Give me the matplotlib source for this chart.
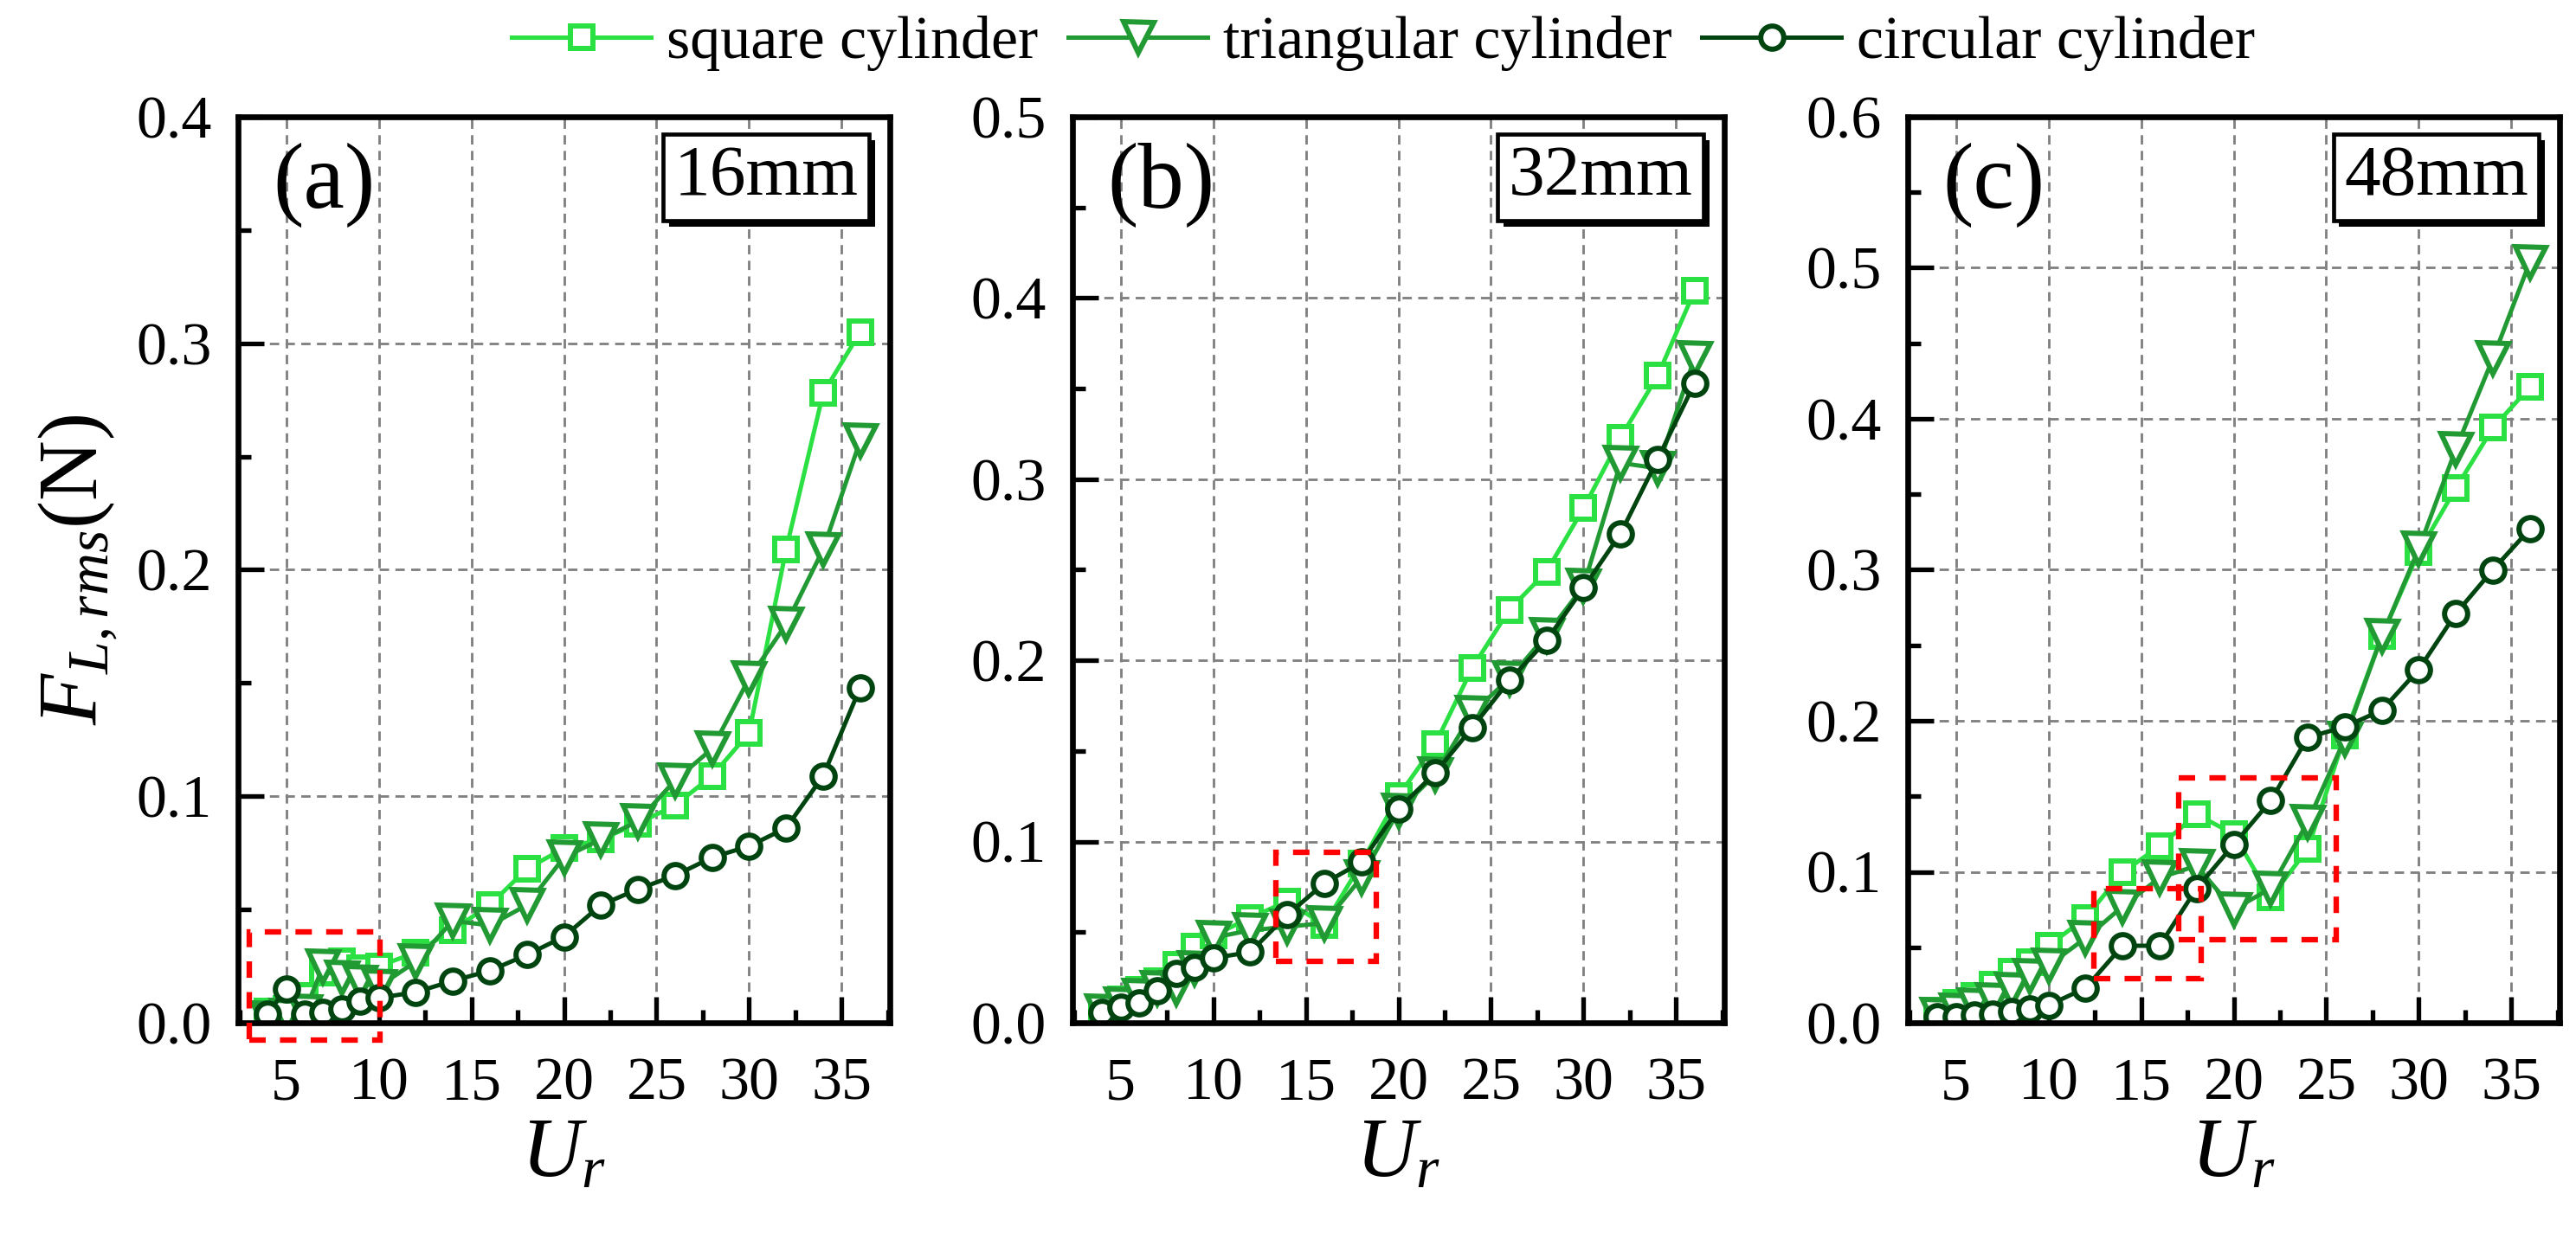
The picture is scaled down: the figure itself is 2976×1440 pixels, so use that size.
import matplotlib
matplotlib.use('Agg')
import matplotlib.pyplot as plt
import matplotlib.patheffects as pe
from matplotlib.patches import Rectangle
from matplotlib.ticker import MultipleLocator

plt.rcParams['font.family'] = ['Liberation Serif', 'DejaVu Serif']
plt.rcParams['mathtext.fontset'] = 'custom'
plt.rcParams['mathtext.rm'] = 'Liberation Serif'
plt.rcParams['mathtext.it'] = 'Liberation Serif:italic'

# reduced velocity
Ur = [4, 5, 6, 7, 8, 9, 10, 12, 14, 16, 18, 20, 22, 24, 26, 28, 30, 32, 34, 36]

# (a) 16mm
sq16 = [0.005, 0.006, 0.012, 0.022, 0.027, 0.024, 0.025, 0.031, 0.041, 0.052, 0.068, 0.077,
        0.081, 0.088, 0.096, 0.109, 0.128, 0.209, 0.278, 0.305]
tri16 = [0.002, 0.003, 0.005, 0.025, 0.020, 0.018, 0.016, 0.027, 0.045, 0.043, 0.052, 0.073,
         0.081, 0.089, 0.107, 0.121, 0.152, 0.176, 0.209, 0.257]
cir16 = [0.004, 0.015, 0.004, 0.0045, 0.006, 0.0095, 0.011, 0.0135, 0.0185, 0.023, 0.030, 0.038,
         0.052, 0.059, 0.065, 0.073, 0.078, 0.086, 0.109, 0.148]

# (b) 32mm
sq32 = [0.008, 0.013, 0.018, 0.023, 0.032, 0.042, 0.048, 0.058, 0.067, 0.054, 0.088, 0.125,
        0.154, 0.196, 0.228, 0.249, 0.284, 0.323, 0.357, 0.404]
tri32 = [0.006, 0.010, 0.015, 0.019, 0.019, 0.030, 0.047, 0.051, 0.053, 0.055, 0.080, 0.117,
         0.137, 0.171, 0.190, 0.214, 0.241, 0.309, 0.306, 0.367]
cir32 = [0.0056, 0.0088, 0.011, 0.0177, 0.027, 0.0305, 0.0357, 0.039, 0.0595, 0.077, 0.0886, 0.118,
         0.138, 0.163, 0.189, 0.211, 0.240, 0.270, 0.311, 0.353]

# (c) 48mm
sq48 = [0.008, 0.013, 0.018, 0.025, 0.034, 0.040, 0.051, 0.0695, 0.0995, 0.117, 0.138, 0.125,
        0.083, 0.115, 0.190, 0.256, 0.312, 0.354, 0.394, 0.421]
tri48 = [0.005, 0.008, 0.0116, 0.015, 0.022, 0.031, 0.038, 0.056, 0.077, 0.096, 0.104, 0.075,
         0.089, 0.133, 0.188, 0.256, 0.314, 0.380, 0.440, 0.504]
cir48 = [0.004, 0.004, 0.005, 0.006, 0.0074, 0.009, 0.0116, 0.023, 0.051, 0.051, 0.089, 0.118,
         0.147, 0.189, 0.196, 0.207, 0.234, 0.271, 0.300, 0.327]

panels = ['(a)', '(b)', '(c)']
sizes = ['16mm', '32mm', '48mm']
ymax = [0.4, 0.5, 0.6]
square = [sq16, sq32, sq48]
triangle = [tri16, tri32, tri48]
circle = [cir16, cir32, cir48]
# red dashed boxes: (x0, x1, y0, y1)
boxes = [[(3.0, 10.05, -0.0076, 0.040)],
         [(13.4, 18.8, 0.034, 0.094)],
         [(12.45, 18.25, 0.029, 0.089), (17.05, 25.55, 0.055, 0.162)]]

names = ['square cylinder', 'triangular cylinder', 'circular cylinder']
colors = ['#2BE042', '#229A34', '#004510']

fig = plt.figure(figsize=(12.4, 6), dpi=240)
lefts = [275, 1239, 2204]
W, H = 2976, 1440

handles = []
for i in range(3):
    ax = fig.add_axes([lefts[i] / W, (H - 1182) / H, 753 / W, 1047 / H])
    l1, = ax.plot(Ur, square[i], '-s', color=colors[0], mfc='white', ms=7.8, mew=1.8, lw=1.5)
    l2, = ax.plot(Ur, triangle[i], '-v', color=colors[1], mfc='white', ms=10.5, mew=1.8, lw=1.5)
    l3, = ax.plot(Ur, circle[i], '-o', color=colors[2], mfc='white', ms=8, mew=1.8, lw=1.5)
    if i == 0:
        handles = [l1, l2, l3]
    for (x0, x1, y0, y1) in boxes[i]:
        ax.add_patch(Rectangle((x0, y0), x1 - x0, y1 - y0, fill=False, ec='#FF0000',
                               lw=1.9, ls=(0, (3, 2.6)), clip_on=False, zorder=5))
    ax.set_xlim(2.4, 37.6)
    ax.set_ylim(0, ymax[i])
    ax.xaxis.set_major_locator(MultipleLocator(5))
    ax.xaxis.set_minor_locator(MultipleLocator(2.5))
    ax.yaxis.set_major_locator(MultipleLocator(0.1))
    ax.yaxis.set_minor_locator(MultipleLocator(0.05))
    ax.yaxis.set_major_formatter(plt.FormatStrFormatter('%.1f'))
    ax.grid(True, which='major', color='#808080', lw=0.85, ls=(0, (3.8, 2.6)))
    ax.set_axisbelow(True)
    ax.tick_params(which='both', direction='in', top=False, right=False, labelsize=21)
    ax.tick_params(which='major', length=9, width=1.6)
    ax.tick_params(which='minor', length=4.5, width=1.6)
    ax.tick_params(axis='x', pad=12)
    ax.tick_params(axis='y', pad=9)
    for s in ax.spines.values():
        s.set_linewidth(2.0)
    ax.set_xlabel(r'$U_r$', fontsize=29, labelpad=2)
    if i == 0:
        ax.set_ylabel(r'$F_{L,rms}$(N)', fontsize=29, labelpad=6)
    ax.text(0.054, 0.925, panels[i], transform=ax.transAxes, fontsize=32, ha='left', va='center')
    t = ax.text(0.952, 0.969, sizes[i], transform=ax.transAxes, fontsize=25, ha='right', va='top',
                bbox=dict(boxstyle='square,pad=0.15', fc='white', ec='black', lw=1.4), zorder=6)
    t.get_bbox_patch().set_path_effects([pe.SimplePatchShadow(offset=(2.0, -2.0), shadow_rgbFace='black', alpha=1),
                                         pe.Normal()])

fig.legend(handles, names, loc='center', bbox_to_anchor=(0.537, 0.965), ncol=3, frameon=False,
           fontsize=21, handlelength=2.3, handletextpad=0.25, columnspacing=0.5, borderaxespad=0)

fig.savefig('out.png', dpi=240)
